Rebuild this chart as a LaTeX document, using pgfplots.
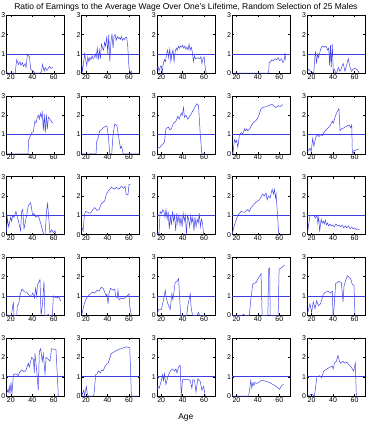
\documentclass[border=0pt]{standalone}
\usepackage{fontspec}
\setmainfont{Liberation Sans}
\usepackage{pgfplots}
\pgfplotsset{compat=1.18}
\usepgfplotslibrary{groupplots}
\usetikzlibrary{calc}

\definecolor{earn}{RGB}{70,70,235}
\definecolor{refl}{RGB}{60,60,225}

\pgfplotsset{
  panel/.style={
    scale only axis, width=58bp, height=58bp,
    xmin=16, xmax=70, ymin=0, ymax=3,
    xtick={20,40,60}, ytick={0,1,2,3},
    tick align=inside, major tick length=2bp,
    tick style={black, line width=0.4bp},
    axis line style={line width=0.5bp},
    every tick label/.append style={font=\fontsize{7}{8}\selectfont, inner sep=1bp},
    /pgf/number format/assume math mode=true,
  },
  series/.style={earn, line width=0.5bp, mark=none},
}
% average-wage reference level
\newcommand{\refline}{\addplot[refl, line width=0.5bp] coordinates {(16,1) (70,1)};}

\begin{document}
\begin{tikzpicture}
\begin{groupplot}[group style={group size=5 by 5, horizontal sep=17.25bp, vertical sep=22.75bp}, panel]
% ---------- row 1
\nextgroupplot
\refline
\addplot[series] coordinates {(16,0)(16.3,0.05)(17.3,0)(24.1,0)(25.5,0.7)(27.1,0.45)(28.6,0.6)(29.5,0.4)(30.8,0.55)(31.8,0.35)(33.3,0.5)(34.2,0.3)(35.5,0.95)(37.4,0.85)(38.6,0.2)(39.8,0.15)(41.2,0.1)(42.7,0)(47.4,0)(48.6,0.1)(49.6,0.45)(51.1,0.1)(52,0.3)(53.5,0.15)(56.1,0.35)(57.4,0.25)(59.4,0.3)};
\nextgroupplot
\refline
\addplot[series] coordinates {(16,0.5)(16.8,0.1)(17.8,0.6)(18.8,1.0)(19.7,0.7)(20.7,0.4)(21.7,0.85)(22.7,0.6)(23.6,0.8)(24.6,0.7)(25.6,0.9)(26.6,0.75)(27.6,0.8)(28.5,1.0)(29.5,0.8)(30.5,1.3)(31.5,0.7)(32.4,1.2)(33.4,0.75)(34.4,1.5)(35.4,1.3)(36.4,1.2)(37.3,1.6)(38.3,1.4)(39.3,1.9)(40.3,1.0)(41.2,2.0)(42.2,0.6)(43.2,1.6)(44.2,2.05)(45.2,1.3)(46.1,1.9)(47.1,2.0)(48.1,1.7)(49.1,1.9)(50.1,1.8)(51,1.85)(52,1.75)(53,1.9)(54,1.7)(54.9,1.8)(55.9,1.75)(56.9,1.85)(57.9,1.85)(58.9,1.4)(60,0.3)(61.2,0)(62.2,0.1)(63,0)};
\nextgroupplot
\refline
\addplot[series] coordinates {(16,0.2)(17,0.35)(18,0.1)(19,0.3)(20,0.4)(21,0.05)(22,0.5)(23,0.7)(24,0.6)(25,1.0)(26,1.2)(27,0.8)(28,1.25)(29,0.6)(30,1.0)(31,1.2)(32,0.6)(33,1.1)(34,1.3)(35,1.2)(36,1.4)(37,1.3)(38,1.4)(39,1.35)(40,1.45)(41,1.3)(42,1.4)(43,1.25)(44,1.35)(45,1.2)(46,1.5)(47,1.2)(48,1.35)(49,1.1)(50,0.6)(51,0.9)(52,0.75)(54,0.8)(56,0.75)(57,0.85)(58,0.5)(59,0.75)(60,0.85)(61,0.3)(62,0)};
\nextgroupplot
\refline
\addplot[series] coordinates {(16,0)(50,0)(50.5,0.55)(52,0.6)(53,0.7)(54.5,0.65)(56,0.75)(57.5,0.7)(59,0.8)(60.5,0.65)(62,0.75)(63.5,0.55)(64.5,0.65)(65.3,1.05)(65.8,0.7)};
\nextgroupplot
\refline
\addplot[series] coordinates {(16,0.1)(17.5,0.2)(19,0.1)(20.5,0.05)(22,0)(23.5,1.15)(24.7,0.5)(25.5,1.0)(26.5,0.8)(27.8,1.1)(29,1.35)(30.5,1.4)(32,1.35)(33.5,1.4)(35,1.2)(36,1.3)(36.8,0.4)(37.6,1.45)(38.3,0.3)(39.3,1.5)(40.2,0.1)(41.2,0.2)(42.7,0)(43.8,0.1)(44.9,0.3)(46.4,0.1)(47.5,0.2)(48.5,0.4)(49.5,0.5)(51.1,0.1)(52.5,0.4)(54.2,0.75)(55.8,0.3)(57.3,0.1)(58.5,0.2)(60.4,0.25)(62,0.2)(63.5,0.1)(64.4,0)};
% ---------- row 2
\nextgroupplot
\refline
\addplot[series] coordinates {(16,0)(36.2,0)(36.4,0.7)(37.3,0.8)(39.4,1.1)(41,1.15)(42.5,1.7)(43.5,1.6)(44.7,1.9)(45.7,2.0)(46.6,1.8)(47.5,2.1)(48.4,1.9)(49.4,2.15)(50.3,1.2)(51.2,2.05)(52.2,1.1)(53.1,2.05)(54.1,1.3)(55,1.9)(56.4,1.8)(58.1,1.65)(59.6,1.6)};
\nextgroupplot
\refline
\addplot[series] coordinates {(16,0)(29.5,0)(29.7,0.6)(31.2,0.8)(32.8,1.2)(34.4,1.25)(35.9,1.35)(37.4,1.4)(39.5,1.45)(40.9,0.9)(42.1,0)(44,0)(45.2,1.0)(46.8,1.55)(48.9,1.45)(50.1,1.0)(52.1,0.3)(53.1,0.4)(54.6,0)(70,0)};
\nextgroupplot
\refline
\addplot[series] coordinates {(16,0.2)(17.1,0.3)(19.1,0.35)(21.3,0.5)(23,0.6)(24.4,1.3)(25.5,1.35)(26.8,1.4)(27.9,1.25)(29.4,1.3)(31.5,1.6)(32.8,1.65)(33.8,1.7)(35.5,1.95)(36.7,1.8)(38.7,2.1)(39.6,2.0)(40.8,2.4)(41.6,1.9)(43,2.0)(44.8,1.8)(47.1,2.0)(49.2,2.2)(51.1,2.4)(53.2,2.6)(54.8,2.5)(56.4,1.0)(57.9,0)(61.1,0)};
\nextgroupplot
\refline
\addplot[series] coordinates {(16,0.1)(16.8,0)(18.2,0.75)(19.2,0.6)(20.2,0.7)(21.3,0.35)(22.9,1.0)(24.6,1.1)(26.1,1.05)(27.5,1.3)(28.5,1.2)(29.5,1.3)(30.5,1.2)(32.4,1.3)(35.3,1.6)(37.7,1.7)(39.3,1.8)(40.9,2.0)(42.7,2.3)(44.6,2.4)(47.7,2.45)(50,2.5)(52,2.55)(53.9,2.55)(55.4,2.45)(56.9,2.4)(58.9,2.5)(60.8,2.45)(63.2,2.55)};
\nextgroupplot
\refline
\addplot[series] coordinates {(16,0.1)(18.5,0.3)(19.6,0.1)(21,0.8)(22.1,0.4)(23.8,0.85)(25.3,1.0)(26.9,0.9)(28.4,1.0)(30,0.95)(31.4,1.1)(33,1.2)(34.6,1.3)(36.3,1.4)(37.7,1.5)(39.3,1.7)(40.2,1.6)(42.4,2.0)(44.1,2.2)(45.5,2.35)(46.5,1.2)(48,1.3)(50.2,1.35)(52.9,1.45)(54.9,1.5)(56.5,1.35)(57.4,1.5)(57.9,0.2)(58.4,0)(59.5,0.15)(61.2,0.2)(64.1,0.25)};
% ---------- row 3
\nextgroupplot
\refline
\addplot[series] coordinates {(16,0.15)(16.8,0.85)(18,0.4)(19.9,0.9)(20.8,0.7)(21.8,1.0)(23,0.9)(24.8,1.2)(27.1,0.7)(29.2,0.2)(30.1,1.2)(31.1,1.3)(32.3,0.3)(34.8,1.0)(36.3,1.5)(38.5,1.65)(40.4,1.0)(41.6,1.1)(43.5,0.9)(45.6,1.0)(47.8,0.6)(49.6,0.2)(50.9,0)(51.9,0)(53.5,1.3)(54.3,1.6)(56.5,0.1)(58.1,0.25)(59.6,0.1)(61.2,0.2)(62.2,0)(62.6,0)};
\nextgroupplot
\refline
\addplot[series] coordinates {(16,0.4)(17.3,0.2)(18.5,1.0)(19.7,1.2)(21.9,1.15)(24,1.1)(26.6,1.3)(28.1,1.4)(30.3,1.25)(32.2,1.3)(34.3,1.6)(37.4,1.75)(39,2.1)(41.4,2.3)(43.6,2.45)(46.7,2.35)(48.3,2.45)(50.7,2.35)(53,2.5)(55.1,2.4)(56.4,2.5)(57.4,2.1)(59.1,2.05)(60.1,2.6)(61.3,2.6)};
\nextgroupplot
\refline
\addplot[series] coordinates {(16,0)(17,0.1)(18,0.05)(19,1.2)(20.5,1.1)(21.5,1.3)(22.5,1.2)(23.5,0.9)(24.5,1.3)(25.5,0.8)(26.5,1.2)(27.5,0.3)(28.5,1.0)(29.5,0.5)(30.5,1.2)(31.5,0.7)(32.5,1.0)(33.5,0.2)(34.5,1.1)(35.5,0.6)(36.5,1.0)(37.5,0.5)(38.5,0.9)(39.5,0.4)(40.5,1.1)(41.5,0.7)(42.5,1.0)(43.5,0)(44.5,1.0)(45.5,0.8)(46.5,0.4)(47.5,1.0)(48.5,0.6)(49.5,0.9)(50.5,0.2)(51.5,0.9)(52.5,0.4)(53.5,0.8)(54.5,0.6)(55.5,1.1)(56.5,0.4)(57.5,0.8)(58.5,0.6)(59.5,0)};
\nextgroupplot
\refline
\addplot[series] coordinates {(16,0)(18.2,0.5)(21.3,1.0)(24.4,1.2)(27.5,1.15)(30.6,1.3)(32.2,1.2)(33.7,1.4)(36.8,1.6)(39.9,1.75)(41.4,1.8)(44.6,2.1)(46.1,2.0)(47.7,2.15)(48.6,1.8)(50.1,2.0)(51.4,1.9)(53.3,2.35)(54.5,2.1)(55.4,2.35)(56.4,1.9)(57,2.1)(59.5,0)(59.9,0)};
\nextgroupplot
\refline
\addplot[series] coordinates {(16,0)(18.5,1.0)(22.1,1.0)(23.6,0.85)(25,1.0)(25.8,0.6)(26.7,0.9)(27.5,0.15)(28.9,0.8)(29.9,0.6)(30.9,0.7)(31.9,0.55)(32.8,0.75)(33.8,0.5)(34.8,0.6)(35.8,0.45)(37.2,0.55)(38.2,0.45)(39.7,0.5)(41.2,0.4)(42.6,0.55)(44.1,0.45)(45.6,0.5)(47,0.4)(48.5,0.5)(49.9,0.35)(51.4,0.45)(52.9,0.35)(54.4,0.45)(55.8,0.3)(57.3,0.4)(58.8,0.3)(60.2,0.35)(61.7,0.25)(63.2,0.3)(64.6,0.25)};
% ---------- row 4
\nextgroupplot
\refline
\addplot[series] coordinates {(16,0.1)(16.7,0)(20.6,0)(22.4,0.7)(23,0)(25.5,0)(26.1,0.5)(27.4,0.6)(28.4,1.0)(29.4,1.2)(30.4,1.35)(31.4,1.3)(32.3,1.25)(33.3,1.2)(34.8,1.2)(36.2,1.1)(38.2,1.0)(39.2,0.95)(40.2,1.15)(41.1,1.1)(42.1,0.9)(43.1,1.4)(44.1,1.0)(45,1.6)(46,1.7)(47.2,1.85)(48.2,0)(49.4,0.5)(50.9,1.75)(51.9,0)(53.8,0)(54.8,0.05)(55.8,0)(58.7,0)(59.7,1.0)(60.7,0.95)(62.6,0.9)(64.6,0.95)(66.6,0.75)};
\nextgroupplot
\refline
\addplot[series] coordinates {(16,0)(17.9,0.5)(19.7,0.8)(21.9,1.0)(24,1.1)(25.9,1.2)(28.1,1.15)(30.3,1.3)(32.2,1.25)(34.3,1.45)(35.9,1.4)(37.4,1.2)(39,1.0)(39.6,1.1)(40.6,0.6)(41.4,1.1)(42.7,1.4)(45.2,1.3)(46.7,1.35)(47.7,1.0)(48.9,0.9)(49.8,1.3)(50.7,0.8)(53,0.9)(55.1,0.85)(57,0.95)(58.3,1.0)(60.1,1.1)(60.7,0.5)(62.3,0)};
\nextgroupplot
\refline
\addplot[series] coordinates {(16,0)(17.5,0.3)(20.1,0.3)(22.2,0.8)(23.8,1.3)(24.7,0.9)(26.2,0.6)(28.4,0.3)(29.9,1.1)(30.9,0.8)(33,1.7)(34.6,1.75)(36.2,1.9)(37.1,1.0)(38.1,0)(43.9,0)(44.8,0.5)(47.1,1.1)(47.9,0.4)(49.2,0)(53.2,0)(54.8,0.15)(55.8,0)(61.1,0)};
\nextgroupplot
\refline
\addplot[series] coordinates {(16,0)(25.6,0)(26.6,0.05)(27.6,0)(32.1,0)(33.4,0.8)(35.2,1.6)(36.4,1.65)(38.3,1.7)(41.2,2.0)(43,2.15)(44,0)(49.3,0)(50.1,2.4)(51,2.45)(51.5,0)(58.9,0)(59.8,2.4)(61.8,2.45)(62.8,2.5)(64.7,2.6)};
\nextgroupplot
\refline
\addplot[series] coordinates {(16,0.05)(18.5,0.6)(20,0.15)(21.6,0.7)(23.2,0.35)(24.7,0.75)(26.3,0.5)(28.4,0.6)(30.9,1.1)(33,1.2)(35.3,1.25)(37.7,1.15)(39.3,1.25)(40,0)(40.5,0)(42.4,1.65)(45.5,1.75)(47.7,1.7)(49.3,0.7)(50.2,1.5)(51.7,1.8)(53.3,2.05)(56.4,1.9)(57.9,1.6)(59.5,1.55)(60.4,0)};
% ---------- row 5
\nextgroupplot
\refline
\addplot[series] coordinates {(16,0.1)(16.8,0.3)(17.7,0.2)(18.6,0.5)(19.2,0.1)(20.2,0.7)(21.1,0.1)(22.4,1.1)(24.8,1.15)(27.1,1.05)(27.9,1.2)(30.1,1.35)(32.3,1.25)(34.2,1.35)(36.3,1.7)(37.2,1.5)(39.5,2.0)(41,1.9)(41.9,1.2)(42.5,2.2)(44,1.4)(45.6,0.3)(46.6,2.3)(47.8,2.45)(49.3,1.8)(50.3,2.2)(51.9,1.1)(52.8,2.0)(54.9,1.9)(56.5,1.8)(58,2.45)(62.1,2.4)(63.4,1.0)(64.3,0)};
\nextgroupplot
\refline
\addplot[series] coordinates {(16,0)(17.9,0.3)(18.7,0)(20.3,0.5)(21.3,0.1)(22.2,0)(26.6,0)(27.5,0.1)(29,1.1)(30.3,1.15)(31.6,1.3)(33.4,1.2)(34.6,1.35)(35.9,1.3)(38.3,1.6)(40.6,1.7)(43.6,2.2)(46.7,2.3)(49.9,2.4)(53,2.45)(57.6,2.55)(60.8,2.5)(62.3,0)(68.5,0)};
\nextgroupplot
\refline
\addplot[series] coordinates {(16,0.3)(16.9,0.5)(18.1,0.4)(20.1,0.8)(21.3,1.1)(22.2,0.8)(23.1,1.15)(24.4,0.6)(26.2,1.0)(28.4,1.3)(30.5,1.4)(32.5,1.3)(33.7,1.4)(34.7,1.2)(36.2,1.5)(37.7,1.6)(38.7,0)(39.9,0.85)(45.5,0.85)(47.1,0.8)(48.6,0.4)(49.5,0.85)(51.1,0.8)(52.4,0.2)(54.2,0.9)(56.4,0.75)(57.9,0.3)(59.5,0.5)(61.1,0)};
\nextgroupplot
\refline
\addplot[series] coordinates {(16,0)(31.5,0)(33.4,0.8)(34.4,0.4)(35.4,0.7)(36.4,0.55)(37.3,0.7)(39.3,0.65)(43.2,0.8)(45.2,0.8)(48.1,0.75)(51,0.7)(54,0.6)(56.9,0.5)(60.3,0.35)(62.3,0.55)(64.2,0.6)};
\nextgroupplot
\refline
\addplot[series] coordinates {(16,0)(20,0.1)(22.6,0)(25,1.0)(27.5,1.05)(29.4,0.95)(31.4,1.3)(34.3,1.4)(37.2,1.5)(39.2,1.55)(40.2,1.4)(41.2,1.7)(43.1,1.8)(44.6,2.1)(46,1.8)(47,1.7)(49,1.8)(50.9,1.7)(52.9,1.75)(54.8,1.6)(56.8,1.5)(59.2,1.3)(60.7,1.7)(61.7,0)};
\end{groupplot}
\node[font=\fontsize{8.5}{10}\selectfont] at ($(group c3r1.north)+(0,8bp)$) {Ratio of Earnings to the Average Wage Over One's Lifetime, Random Selection of 25 Males};
\node[font=\fontsize{8.5}{10}\selectfont] at ($(group c3r5.south)+(0,-21bp)$) {Age};
\path[use as bounding box] ($(group c1r1.north west)+(-6.5bp,15bp)$) rectangle ($(group c5r5.south east)+(9.5bp,-31bp)$);
\end{tikzpicture}
\end{document}
